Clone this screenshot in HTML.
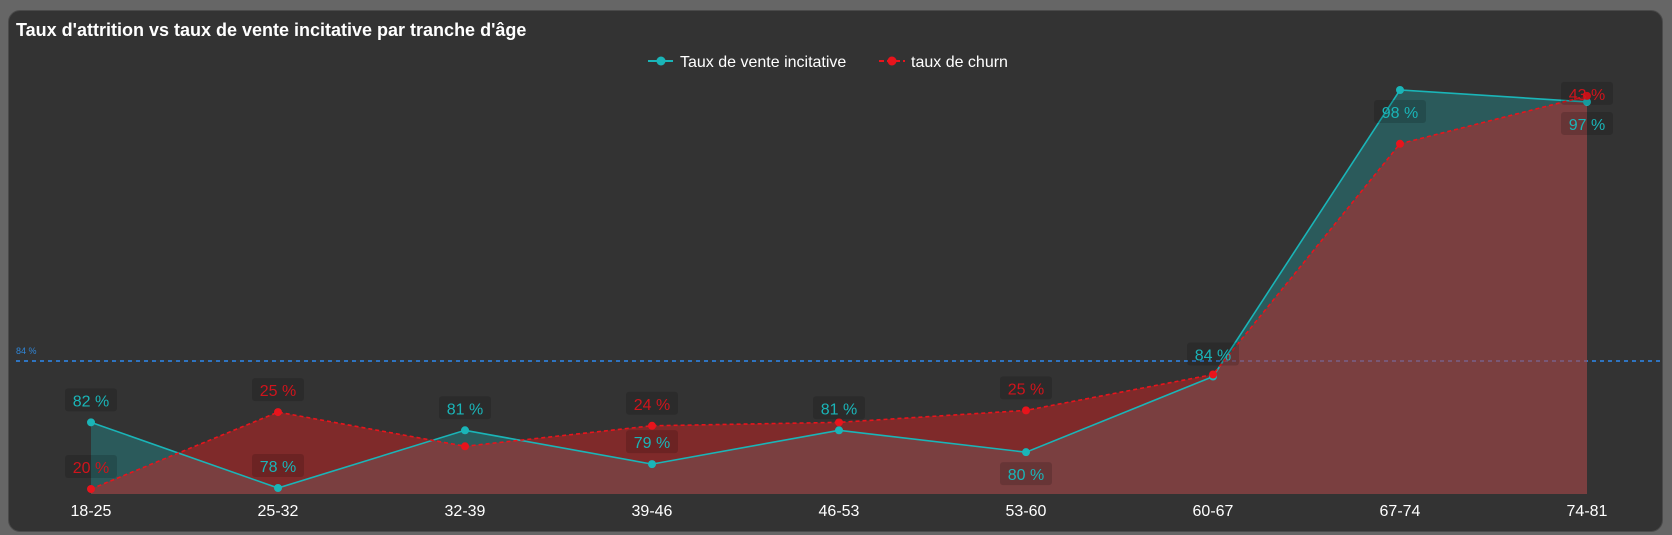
<!DOCTYPE html>
<html><head><meta charset="utf-8"><style>
html,body{margin:0;padding:0;background:#666;width:1672px;height:535px;overflow:hidden;font-family:"Liberation Sans","DejaVu Sans",sans-serif}
#panel{position:absolute;left:8px;top:10px;width:1655px;height:522px;background:#333;border:1px solid #4a4a4a;border-radius:12px;box-sizing:border-box}
</style></head><body>
<div id="panel"></div>
<svg id="chart" width="1672" height="535" style="position:absolute;left:0;top:0">
<text x="16" y="36" fill="#fff" font-size="18" font-weight="bold">Taux d'attrition vs taux de vente incitative par tranche d'âge</text>
<g>
<g>
<line x1="648" y1="61" x2="673" y2="61" stroke="#1ab5b8" stroke-width="2"/>
<circle cx="661" cy="61" r="4.5" fill="#1ab5b8"/>
<text x="680" y="67" fill="#fff" font-size="16">Taux de vente incitative</text>
</g>
<g>
<line x1="879" y1="61" x2="905" y2="61" stroke="#e8141c" stroke-width="2" stroke-dasharray="5,3"/>
<circle cx="892" cy="61" r="4.5" fill="#e8141c"/>
<text x="911" y="67" fill="#fff" font-size="16">taux de churn</text>
</g>
</g>
<line x1="16" y1="361" x2="1663" y2="361" stroke="#2f74c0" stroke-width="2" stroke-dasharray="4,4"/>
<text x="16" y="354" fill="#2f86d8" font-size="9">84 %</text>
<g id="marks"></g>
</svg>
<script>
const categories=["18-25","25-32","32-39","39-46","46-53","53-60","60-67","67-74","74-81"];
const upsell=[81.3,78,80.9,79.2,80.9,79.8,83.6,98,97.4];
const churn=[20,24.5,22.5,23.7,23.9,24.6,26.7,40.2,43];
const upsellLabels=["82 %","78 %","81 %","79 %","81 %","80 %","84 %","98 %","97 %"];
const churnLabels=["20 %","25 %","","24 %","","25 %","","","43 %"];
const upsellLabelBelow=[false,false,false,false,false,true,false,true,true];

const x0=91,x1=1587,baseY=494;
function xPos(i){return x0+(x1-x0)*i/(categories.length-1);}
function yUp(v){return 488-(v-78)*19.9;}
function yCh(v){return 489-(v-20)*17.09;}
const NS="http://www.w3.org/2000/svg";
const g=document.getElementById('marks');
function mk(tag,attrs){const e=document.createElementNS(NS,tag);for(const k in attrs)e.setAttribute(k,attrs[k]);g.appendChild(e);return e;}

categories.forEach((c,i)=>{
  const t=mk('text',{x:xPos(i),y:516,fill:'#fff','font-size':16,'text-anchor':'middle'});
  t.textContent=c;
  
  
});

const upPts=upsell.map((v,i)=>[xPos(i),yUp(v)]);
const chPts=churn.map((v,i)=>[xPos(i),yCh(v)]);
function areaD(p){return 'M'+p[0][0]+','+baseY+' '+p.map(q=>'L'+q[0]+','+q[1]).join(' ')+' L'+p[p.length-1][0]+','+baseY+' Z';}
function lineD(p){return 'M'+p.map(q=>q[0]+','+q[1]).join(' L');}

const ua=mk('path',{d:areaD(upPts),fill:'rgba(26,181,184,0.3)'});


const ca=mk('path',{d:areaD(chPts),fill:'rgba(220,30,30,0.45)'});


const ul=mk('path',{d:lineD(upPts),fill:'none',stroke:'#1ab5b8','stroke-width':1.6});


const cl=mk('path',{d:lineD(chPts),fill:'none',stroke:'#e8141c','stroke-width':1.6,'stroke-dasharray':'4,3'});



upPts.forEach((p,i)=>{
  const c=mk('circle',{cx:p[0],cy:p[1],r:4,fill:'#1ab5b8'});
  
  
});
chPts.forEach((p,i)=>{
  const c=mk('circle',{cx:p[0],cy:p[1],r:4,fill:'#e8141c'});
  
  
});

function label(txt,cx,cy,color,name){
  const r=mk('rect',{x:cx-26,y:cy-12,width:52,height:23,rx:3,fill:'rgba(0,0,0,0.15)'});
  
  
  const t=mk('text',{x:cx,y:cy+6,fill:color,'font-size':16,'text-anchor':'middle'});
  t.textContent=txt;
  
  
}
upPts.forEach((p,i)=>{
  const cy=upsellLabelBelow[i]?p[1]+22:p[1]-22;
  label(upsellLabels[i],p[0],cy,'#1ab5b8','upsell-data-label');
});
chPts.forEach((p,i)=>{
  if(!churnLabels[i])return;
  const cy=(i===churn.length-1)?p[1]-2:p[1]-22;
  label(churnLabels[i],p[0],cy,'#d0141c','churn-data-label');
});
</script>
</body></html>
